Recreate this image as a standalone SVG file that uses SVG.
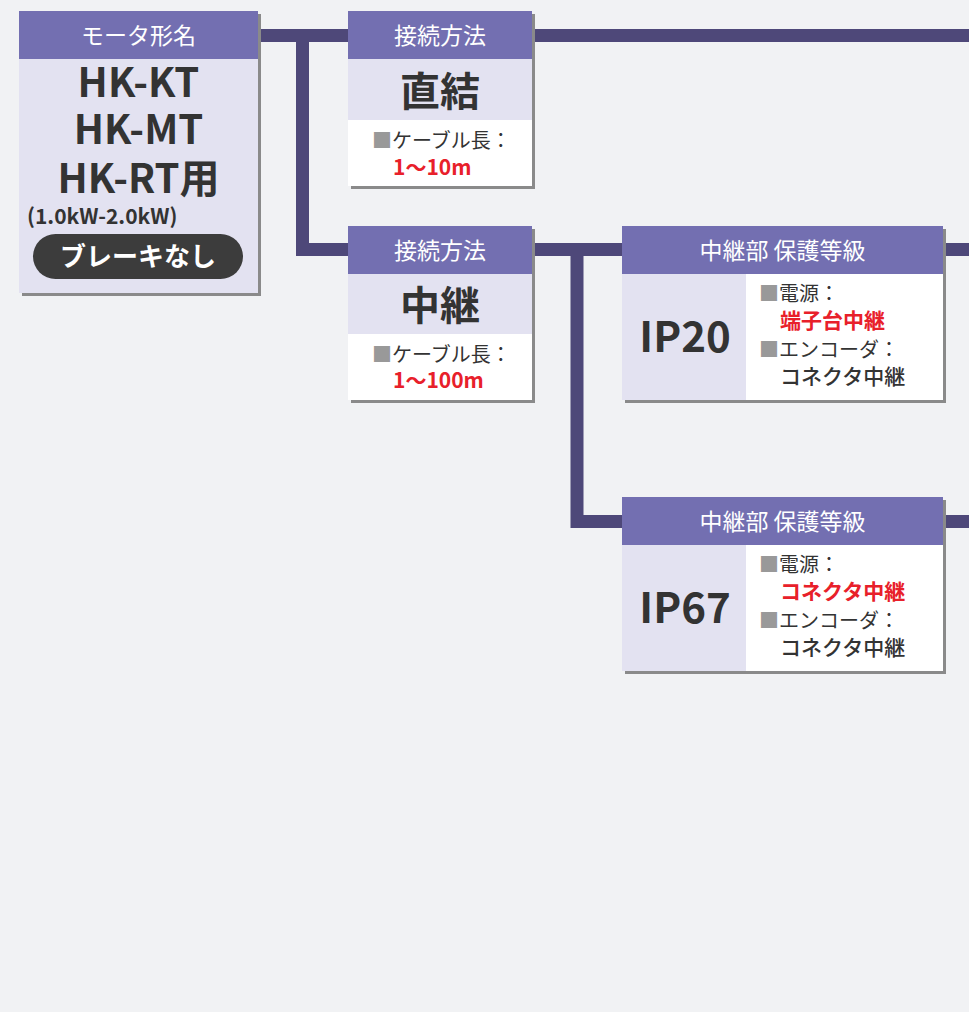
<svg xmlns="http://www.w3.org/2000/svg" width="969" height="1012" viewBox="0 0 969 1012">
<style>
text{font-family:"Noto Sans CJK JP","Noto Sans",sans-serif}
.hd{fill:#736fb1}
.lt{fill:#e3e2f1}
.wh{fill:#ffffff}
.sh{fill:#8a8a8a}
.ht{fill:#fff;font-size:23px;text-anchor:middle}
.big{fill:#333;font-size:40px;font-weight:bold;text-anchor:middle}
.lab{fill:#333;font-size:20px}
.sq{fill:#999}
.red{fill:#e8202a;font-size:21px;font-weight:bold}
.val{fill:#333;font-size:21px;font-weight:500}
.ip{fill:#333;font-size:42px;font-weight:bold;text-anchor:middle}
.ln{fill:none;stroke:#4e4879;stroke-width:13}
</style>
<rect width="969" height="1012" fill="#f1f2f4"/>
<g id="connectors">
<path class="ln" d="M258 35.5H348M302.5 35.5V249.5H348"/>
<path class="ln" d="M532 35.5H969"/>
<path class="ln" d="M532 249.5H622M577 249.5V521.5H622"/>
<path class="ln" d="M943 249.5H969M943 521.5H969"/>
</g>
<g id="motor">
<rect class="sh" x="22" y="14" width="239" height="282"/>
<rect class="lt" x="19" y="11" width="239" height="282"/>
<rect class="hd" x="19" y="11" width="239" height="48"/>
<text class="ht" x="138.5" y="44">モータ形名</text>
<text class="big" x="138.5" y="97" font-size="38">HK-KT</text>
<text class="big" x="138.5" y="144" font-size="38">HK-MT</text>
<text class="big" x="138.5" y="193" font-size="38">HK-RT用</text>
<text x="27" y="224" fill="#333" font-size="21" font-weight="bold">(1.0kW-2.0kW)</text>
<rect x="33" y="234" width="210" height="45" rx="22.5" fill="#3c3c3c"/>
<text x="138" y="266" fill="#fff" font-size="26" font-weight="bold" text-anchor="middle">ブレーキなし</text>
</g>
<g id="direct">
<rect class="sh" x="351" y="14" width="184" height="175"/>
<rect class="wh" x="348" y="11" width="184" height="175"/>
<rect class="lt" x="348" y="59" width="184" height="61"/>
<rect class="hd" x="348" y="11" width="184" height="48"/>
<text class="ht" x="440" y="44">接続方法</text>
<text class="big" x="440" y="106">直結</text>
<text class="lab" x="372" y="148"><tspan class="sq">■</tspan>ケーブル長：</text>
<text class="red" x="393" y="175" font-size="22">1〜10m</text>
</g>
<g id="relay">
<rect class="sh" x="351" y="229" width="184" height="174"/>
<rect class="wh" x="348" y="226" width="184" height="174"/>
<rect class="lt" x="348" y="274" width="184" height="60"/>
<rect class="hd" x="348" y="226" width="184" height="48"/>
<text class="ht" x="440" y="259">接続方法</text>
<text class="big" x="440" y="320">中継</text>
<text class="lab" x="372" y="362"><tspan class="sq">■</tspan>ケーブル長：</text>
<text class="red" x="393" y="388" font-size="22">1〜100m</text>
</g>
<g id="ip20">
<rect class="sh" x="625" y="229" width="321" height="174"/>
<rect class="wh" x="622" y="226" width="321" height="174"/>
<rect class="lt" x="622" y="274" width="124" height="126"/>
<rect class="hd" x="622" y="226" width="321" height="48"/>
<text class="ht" x="782.5" y="259">中継部 保護等級</text>
<text class="ip" x="685" y="352">IP20</text>
<text class="lab" x="759" y="301"><tspan class="sq">■</tspan>電源：</text>
<text class="red" x="780" y="328">端子台中継</text>
<text class="lab" x="759" y="357"><tspan class="sq">■</tspan>エンコーダ：</text>
<text class="val" x="780" y="384">コネクタ中継</text>
</g>
<g id="ip67">
<rect class="sh" x="625" y="500" width="321" height="174"/>
<rect class="wh" x="622" y="497" width="321" height="174"/>
<rect class="lt" x="622" y="545" width="124" height="126"/>
<rect class="hd" x="622" y="497" width="321" height="48"/>
<text class="ht" x="782.5" y="530">中継部 保護等級</text>
<text class="ip" x="685" y="623">IP67</text>
<text class="lab" x="759" y="572"><tspan class="sq">■</tspan>電源：</text>
<text class="red" x="780" y="599" font-weight="500">コネクタ中継</text>
<text class="lab" x="759" y="628"><tspan class="sq">■</tspan>エンコーダ：</text>
<text class="val" x="780" y="655">コネクタ中継</text>
</g>
</svg>
